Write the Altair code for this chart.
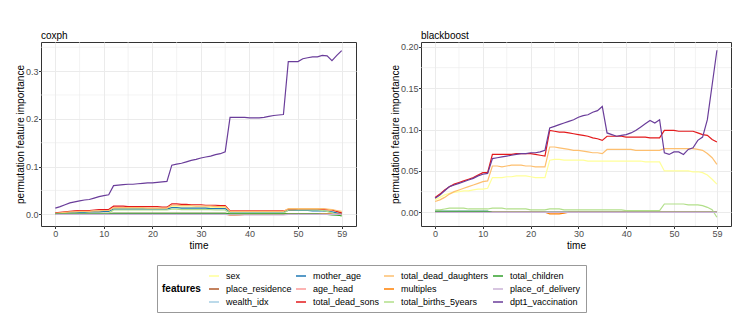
import altair as alt
import pandas as pd

time = list(range(60))

features = ["sex", "place_residence", "wealth_idx", "mother_age", "age_head",
            "total_dead_sons", "total_dead_daughters", "multiples",
            "total_births_5years", "total_children", "place_of_delivery",
            "dpt1_vaccination"]
colors = ["#FFFF99", "#B15928", "#A6CEE3", "#1F78B4", "#FB9A99", "#E31A1C",
          "#FDBF6F", "#FF7F00", "#B2DF8A", "#33A02C", "#CAB2D6", "#6A3D9A"]

# ---------------- coxph ----------------
cox_sex = [0.002,0.003,0.003,0.004,0.004,0.005,0.005,0.005,0.006,0.006,
           0.006,0.006,0.012,0.012,0.012,0.012,0.012,0.012,0.012,0.012,
           0.012,0.012,0.012,0.012,0.016,0.016,0.015,0.015,0.015,0.015,
           0.015,0.014,0.014,0.014,0.014,0.014,0.005,0.005,0.005,0.005,
           0.005,0.005,0.005,0.005,0.005,0.005,0.005,0.005,0.010,0.010,
           0.010,0.010,0.010,0.010,0.010,0.010,0.009,0.008,0.006,0.004]
cox_place_residence = [0.002,0.002,0.002,0.002,0.002,0.002,0.002,0.002,0.002,0.002,
                       0.002,0.002,0.002,0.002,0.002,0.002,0.002,0.002,0.002,0.002,
                       0.002,0.002,0.002,0.002,0.002,0.002,0.002,0.002,0.002,0.002,
                       0.002,0.002,0.002,0.002,0.002,0.002,0.001,0.001,0.001,0.001,
                       0.001,0.001,0.001,0.001,0.001,0.001,0.001,0.001,0.001,0.001,
                       0.001,0.001,0.001,0.001,0.001,0.001,0.001,0.001,0.001,0.001]
cox_wealth_idx = [0.001,0.001,0.001,0.001,0.001,0.001,0.001,0.001,0.001,0.001,
                  0.001,0.001,0.001,0.001,0.001,0.001,0.001,0.001,0.001,0.001,
                  0.001,0.001,0.001,0.001,0.001,0.001,0.001,0.001,0.001,0.001,
                  0.001,0.001,0.001,0.001,0.001,0.001,0.000,0.000,0.000,0.000,
                  0.000,0.000,0.000,0.000,0.000,0.000,0.000,0.000,0.001,0.001,
                  0.001,0.001,0.001,0.001,0.001,0.001,0.001,0.000,0.000,0.000]
cox_mother_age = [0.002,0.002,0.003,0.003,0.004,0.004,0.004,0.005,0.005,0.005,
                  0.006,0.006,0.011,0.011,0.011,0.011,0.011,0.011,0.011,0.011,
                  0.011,0.011,0.011,0.011,0.014,0.014,0.013,0.013,0.013,0.013,
                  0.013,0.013,0.012,0.012,0.012,0.012,0.005,0.005,0.005,0.005,
                  0.005,0.005,0.005,0.005,0.005,0.005,0.005,0.005,0.008,0.008,
                  0.008,0.008,0.008,0.007,0.007,0.007,0.006,0.005,0.003,0.002]
cox_age_head = [0.000,0.000,0.000,0.000,0.000,0.000,0.000,0.000,0.000,0.000,
                0.000,0.000,0.000,0.000,0.000,0.000,0.000,0.000,0.000,0.000,
                0.000,0.000,0.000,0.000,0.001,0.001,0.001,0.001,0.001,0.001,
                0.001,0.001,0.001,0.001,0.001,0.001,0.000,0.000,0.000,0.000,
                0.000,0.000,0.000,0.000,0.000,0.000,0.000,0.000,0.000,0.000,
                0.000,0.000,0.000,0.000,0.000,0.000,0.000,0.000,0.000,0.000]
cox_total_dead_sons = [0.003,0.004,0.005,0.006,0.007,0.008,0.008,0.008,0.009,0.010,
                       0.010,0.010,0.017,0.017,0.017,0.016,0.016,0.016,0.016,0.016,
                       0.016,0.016,0.015,0.015,0.022,0.022,0.021,0.021,0.020,0.020,
                       0.020,0.019,0.019,0.019,0.018,0.018,0.007,0.007,0.007,0.007,
                       0.007,0.007,0.007,0.007,0.007,0.007,0.007,0.007,0.010,0.010,
                       0.011,0.011,0.011,0.011,0.011,0.011,0.010,0.009,0.006,0.003]
cox_total_dead_daughters = [0.002,0.003,0.004,0.005,0.005,0.006,0.006,0.006,0.007,0.007,
                            0.008,0.008,0.014,0.014,0.014,0.014,0.014,0.014,0.014,0.013,
                            0.013,0.013,0.013,0.013,0.019,0.019,0.018,0.018,0.018,0.017,
                            0.017,0.017,0.017,0.016,0.016,0.016,0.006,0.006,0.006,0.006,
                            0.006,0.006,0.006,0.006,0.006,0.006,0.006,0.006,0.012,0.012,
                            0.012,0.012,0.012,0.012,0.012,0.012,0.011,0.010,0.008,0.006]
cox_multiples = [0.001,0.001,0.001,0.001,0.001,0.001,0.001,0.001,0.001,0.001,
                 0.001,0.001,0.001,0.001,0.001,0.001,0.001,0.001,0.001,0.001,
                 0.001,0.001,0.001,0.001,0.001,0.001,0.001,0.001,0.001,0.001,
                 0.001,0.001,0.001,0.001,0.001,0.001,-0.002,-0.002,-0.001,0.000,
                 0.000,0.000,0.000,0.000,0.000,0.000,0.000,0.000,0.001,0.001,
                 0.001,0.001,0.001,0.001,0.001,0.001,0.001,0.001,0.000,0.000]
cox_total_births_5years = [0.001,0.001,0.001,0.002,0.002,0.002,0.002,0.002,0.002,0.002,
                           0.002,0.002,0.009,0.009,0.009,0.009,0.009,0.009,0.009,0.009,
                           0.009,0.009,0.009,0.009,0.011,0.011,0.010,0.010,0.010,0.010,
                           0.010,0.010,0.010,0.009,0.009,0.009,0.002,0.002,0.002,0.002,
                           0.002,0.002,0.002,0.002,0.002,0.002,0.002,0.002,0.009,0.009,
                           0.009,0.009,0.009,0.009,0.009,0.008,0.006,0.003,0.000,-0.004]
cox_total_children = [0.001,0.001,0.001,0.001,0.001,0.001,0.001,0.001,0.001,0.001,
                      0.001,0.001,0.002,0.002,0.002,0.002,0.002,0.002,0.002,0.002,
                      0.002,0.002,0.002,0.002,0.002,0.002,0.002,0.002,0.002,0.002,
                      0.002,0.002,0.002,0.002,0.002,0.002,0.001,0.001,0.001,0.001,
                      0.001,0.001,0.001,0.001,0.001,0.001,0.001,0.001,0.001,0.001,
                      0.001,0.001,0.001,0.001,0.001,0.000,0.000,-0.001,-0.002,-0.003]
cox_place_of_delivery = [0.000,0.000,0.000,0.000,0.000,0.000,0.000,0.000,0.000,0.000,
                         0.000,0.000,0.000,0.000,0.000,0.000,0.000,0.000,0.000,0.000,
                         0.000,0.000,0.000,0.000,0.000,0.000,0.000,0.000,0.000,0.000,
                         0.000,0.000,0.000,0.000,0.000,0.000,-0.001,-0.001,-0.001,-0.001,
                         -0.001,-0.001,-0.001,-0.001,-0.001,-0.001,-0.001,-0.001,0.000,0.000,
                         0.000,0.000,0.000,0.000,0.000,0.000,0.000,0.000,0.000,0.000]
cox_dpt1_vaccination = [0.013,0.016,0.020,0.024,0.026,0.028,0.030,0.031,0.034,0.037,
                        0.039,0.041,0.060,0.061,0.062,0.063,0.063,0.064,0.065,0.066,
                        0.066,0.067,0.068,0.069,0.103,0.105,0.107,0.110,0.113,0.115,
                        0.118,0.120,0.122,0.125,0.127,0.131,0.203,0.203,0.203,0.203,
                        0.202,0.202,0.202,0.203,0.205,0.207,0.208,0.209,0.320,0.320,
                        0.320,0.326,0.328,0.330,0.330,0.333,0.332,0.322,0.333,0.343]

# ---------------- blackboost ----------------
bb_sex = [0.015,0.018,0.021,0.023,0.024,0.025,0.026,0.026,0.027,0.028,
          0.028,0.029,0.042,0.042,0.042,0.043,0.043,0.044,0.044,0.044,
          0.043,0.042,0.042,0.042,0.063,0.064,0.064,0.063,0.063,0.063,
          0.063,0.063,0.062,0.062,0.062,0.062,0.062,0.062,0.062,0.062,
          0.062,0.062,0.062,0.062,0.061,0.061,0.061,0.061,0.050,0.050,
          0.050,0.050,0.050,0.050,0.049,0.049,0.048,0.045,0.040,0.034]
bb_place_residence = [0.000,0.000,0.000,0.000,0.000,0.000,0.000,0.000,0.000,0.000,
                      0.000,0.000,0.000,0.000,0.000,0.000,0.000,0.000,0.000,0.000,
                      0.000,0.000,0.000,0.000,0.000,0.000,0.000,0.000,0.000,0.000,
                      0.000,0.000,0.000,0.000,0.000,0.000,0.000,0.000,0.000,0.000,
                      0.000,0.000,0.000,0.000,0.000,0.000,0.000,0.000,0.000,0.000,
                      0.000,0.000,0.000,0.000,0.000,0.000,0.000,0.000,0.000,0.000]
bb_wealth_idx = [0.000,0.000,0.000,0.000,0.000,0.000,0.000,0.000,0.000,0.000,
                 0.000,0.000,0.000,0.000,0.000,0.000,0.000,0.000,0.000,0.000,
                 0.000,0.000,0.000,0.000,0.000,0.000,0.000,0.000,0.000,0.000,
                 0.000,0.000,0.000,0.000,0.000,0.000,0.000,0.000,0.000,0.000,
                 0.000,0.000,0.000,0.000,0.000,0.000,0.000,0.000,0.000,0.000,
                 0.000,0.000,0.000,0.000,0.000,0.000,0.000,0.000,0.000,0.000]
bb_mother_age = [0.001,0.001,0.001,0.001,0.001,0.001,0.001,0.001,0.001,0.001,
                 0.001,0.001,0.000,0.000,0.000,0.000,0.000,0.000,0.000,0.000,
                 0.000,0.000,0.000,0.000,0.000,0.000,0.000,0.000,0.000,0.000,
                 0.000,0.000,0.000,0.000,0.000,0.000,0.000,0.000,0.000,0.000,
                 0.000,0.000,0.000,0.000,0.000,0.000,0.000,0.000,0.000,0.000,
                 0.000,0.000,0.000,0.000,0.000,0.000,0.000,0.000,0.000,0.000]
bb_age_head = [0.000,0.000,0.000,0.000,0.000,0.000,0.000,0.000,0.000,0.000,
               0.000,0.000,0.000,0.000,0.000,0.000,0.000,0.000,0.000,0.000,
               0.000,0.000,0.000,0.000,0.000,0.000,0.000,0.000,0.000,0.000,
               0.000,0.000,0.000,0.000,0.000,0.000,0.000,0.000,0.000,0.000,
               0.000,0.000,0.000,0.000,0.000,0.000,0.000,0.000,0.000,0.000,
               0.000,0.000,0.000,0.000,0.000,0.000,0.000,0.000,0.000,0.000]
bb_total_dead_sons = [0.018,0.022,0.027,0.031,0.034,0.036,0.038,0.040,0.042,0.045,
                      0.048,0.048,0.070,0.070,0.070,0.070,0.070,0.071,0.071,0.071,
                      0.071,0.070,0.069,0.068,0.099,0.098,0.097,0.097,0.096,0.095,
                      0.094,0.093,0.092,0.090,0.089,0.087,0.092,0.092,0.092,0.092,
                      0.091,0.091,0.091,0.091,0.091,0.090,0.090,0.090,0.099,0.099,
                      0.099,0.098,0.098,0.098,0.098,0.096,0.094,0.093,0.088,0.085]
bb_total_dead_daughters = [0.013,0.015,0.018,0.022,0.025,0.027,0.029,0.031,0.033,0.035,
                           0.037,0.038,0.056,0.056,0.055,0.056,0.057,0.057,0.057,0.056,
                           0.056,0.055,0.055,0.055,0.079,0.079,0.078,0.077,0.076,0.075,
                           0.075,0.074,0.073,0.072,0.072,0.071,0.076,0.076,0.076,0.076,
                           0.076,0.076,0.075,0.075,0.075,0.075,0.075,0.075,0.077,0.077,
                           0.077,0.077,0.077,0.077,0.077,0.076,0.075,0.071,0.066,0.058]
bb_multiples = [0.000,0.000,0.000,0.000,0.000,0.000,0.000,0.000,0.000,0.000,
                0.000,0.000,0.000,0.000,0.000,0.000,0.000,0.000,0.000,0.000,
                0.000,0.000,0.000,0.000,-0.002,-0.002,-0.002,-0.001,0.000,0.000,
                0.000,0.000,0.000,0.000,0.000,0.000,0.000,0.000,0.000,0.000,
                0.000,0.000,0.000,0.000,0.000,0.000,0.000,0.000,0.000,0.000,
                0.000,0.000,0.000,0.000,0.000,0.000,0.000,0.000,0.000,0.000]
bb_total_births_5years = [0.003,0.003,0.004,0.005,0.005,0.005,0.005,0.004,0.004,0.004,
                          0.004,0.004,0.005,0.005,0.005,0.004,0.004,0.004,0.004,0.004,
                          0.003,0.003,0.003,0.003,0.004,0.004,0.004,0.003,0.003,0.003,
                          0.003,0.003,0.003,0.003,0.003,0.003,0.003,0.003,0.003,0.003,
                          0.002,0.002,0.002,0.002,0.002,0.002,0.002,0.002,0.010,0.010,
                          0.010,0.010,0.010,0.009,0.009,0.009,0.008,0.006,0.003,-0.006]
bb_total_children = [0.001,0.001,0.001,0.001,0.001,0.001,0.001,0.001,0.001,0.001,
                     0.001,0.001,0.000,0.000,0.000,0.000,0.000,0.000,0.000,0.000,
                     0.000,0.000,0.000,0.000,0.000,0.000,0.000,0.000,0.000,0.000,
                     0.000,0.000,0.000,0.000,0.000,0.000,0.000,0.000,0.000,0.000,
                     0.000,0.000,0.000,0.000,0.000,0.000,0.000,0.000,0.000,0.000,
                     0.000,0.000,0.000,0.000,0.000,0.000,0.000,0.000,0.000,0.000]
bb_place_of_delivery = [0.000,0.000,0.000,0.000,0.000,0.000,0.000,0.000,0.000,0.000,
                        0.000,0.000,0.000,0.000,0.000,0.000,0.000,0.000,0.000,0.000,
                        0.000,0.000,0.000,0.000,0.000,0.000,0.000,0.000,0.000,0.000,
                        0.000,0.000,0.000,0.000,0.000,0.000,0.000,0.000,0.000,0.000,
                        0.000,0.000,0.000,0.000,0.000,0.000,0.000,0.000,0.000,0.000,
                        0.000,0.000,0.000,0.000,0.000,0.000,0.000,0.000,0.000,0.000]
bb_dpt1_vaccination = [0.017,0.021,0.026,0.031,0.033,0.035,0.037,0.039,0.041,0.044,
                       0.046,0.047,0.065,0.066,0.067,0.068,0.069,0.070,0.071,0.071,
                       0.072,0.072,0.073,0.075,0.102,0.104,0.106,0.108,0.110,0.112,
                       0.115,0.117,0.118,0.121,0.123,0.128,0.096,0.094,0.092,0.093,
                       0.094,0.096,0.099,0.103,0.107,0.111,0.108,0.112,0.072,0.070,
                       0.073,0.073,0.070,0.076,0.078,0.087,0.091,0.112,0.154,0.196]

cox_series = [cox_sex, cox_place_residence, cox_wealth_idx, cox_mother_age, cox_age_head,
              cox_total_dead_sons, cox_total_dead_daughters, cox_multiples,
              cox_total_births_5years, cox_total_children, cox_place_of_delivery,
              cox_dpt1_vaccination]
bb_series = [bb_sex, bb_place_residence, bb_wealth_idx, bb_mother_age, bb_age_head,
             bb_total_dead_sons, bb_total_dead_daughters, bb_multiples,
             bb_total_births_5years, bb_total_children, bb_place_of_delivery,
             bb_dpt1_vaccination]

def long_frame(series_list):
    rows = []
    for f, vals in zip(features, series_list):
        for t, v in zip(time, vals):
            rows.append({"feature": f, "time": t, "value": v})
    return pd.DataFrame(rows)

df_cox = long_frame(cox_series)
df_bb = long_frame(bb_series)

# legend laid out column-wise in 4 columns x 3 rows
n_rows = 3
legend_order = [features[c * n_rows + r] for r in range(n_rows) for c in range(4)]
legend_colors = [colors[features.index(f)] for f in legend_order]

x_breaks = [0, 10, 20, 30, 40, 50, 59]
x_minor = [5, 15, 25, 35, 45, 54.5]
x_dom = [-2.95, 61.95]

GRID = "#EBEBEB"
FONT = "Liberation Sans"
YTITLE = "permutation feature importance"


def panel(df, title, ydom, ybreaks, yminor, yfmt, w):
    xs = alt.Scale(domain=x_dom, nice=False, zero=False)
    ys = alt.Scale(domain=ydom, nice=False, zero=False)
    xaxis = alt.Axis(values=x_breaks, title="time", format="d", titlePadding=2)
    yaxis = alt.Axis(values=ybreaks, format=yfmt, title=YTITLE, titlePadding=0)
    xgrid = alt.Chart(pd.DataFrame({"g": x_minor})).mark_rule(
        color=GRID, strokeWidth=0.6).encode(
        x=alt.X("g:Q", scale=xs, axis=xaxis))
    ygrid = alt.Chart(pd.DataFrame({"g": yminor})).mark_rule(
        color=GRID, strokeWidth=0.6).encode(
        y=alt.Y("g:Q", scale=ys, axis=yaxis))
    lines = alt.Chart(df).mark_line(strokeWidth=1.2).encode(
        x=alt.X("time:Q", scale=xs, axis=xaxis),
        y=alt.Y("value:Q", scale=ys, axis=yaxis),
        color=alt.Color("feature:N",
                        scale=alt.Scale(domain=legend_order, range=legend_colors),
                        legend=alt.Legend(
                            title="features", orient="none",
                            legendX=116, legendY=223,
                            direction="horizontal", columns=4,
                            titleOrient="left", titleFontWeight="bold",
                            titleFontSize=10, titleFont=FONT, titleColor="black",
                            titlePadding=7, titleAnchor="middle",
                            labelFont=FONT, labelFontSize=9, labelColor="black",
                            labelOffset=6, symbolType="stroke",
                            symbolStrokeWidth=1.5, symbolSize=100,
                            rowPadding=2, columnPadding=1,
                            strokeColor="#999999", padding=5)),
        order=alt.Order("time:Q"),
    )
    return alt.layer(xgrid, ygrid, lines).properties(
        width=w, height=184,
        title=alt.TitleParams(title, anchor="start", fontSize=10,
                              fontWeight="normal", font=FONT, color="black",
                              offset=1, frame="group"))


left = panel(df_cox, "coxph", [-0.0245, 0.361], [0.0, 0.1, 0.2, 0.3],
             [0.05, 0.15, 0.25, 0.35], ".1f", 315)
right = panel(df_bb, "blackboost", [-0.0166, 0.206],
              [0.0, 0.05, 0.10, 0.15, 0.20],
              [0.025, 0.075, 0.125, 0.175], ".2f", 310)

chart = alt.hconcat(left, right, spacing=32).properties(
    padding={"left": 6, "top": 22, "right": 5, "bottom": 5}
).configure_view(
    stroke="#333333", strokeWidth=1
).configure_axis(
    grid=True, gridColor=GRID, gridWidth=1, domain=False,
    tickColor="#333333", tickSize=2.5, labelColor="#4D4D4D",
    labelFont=FONT, labelFontSize=9, labelPadding=0.5,
    titleFont=FONT, titleFontSize=10, titleFontWeight="normal",
    titleColor="black"
)

chart.save("out.html", embed_options={"renderer": "svg", "actions": False})
